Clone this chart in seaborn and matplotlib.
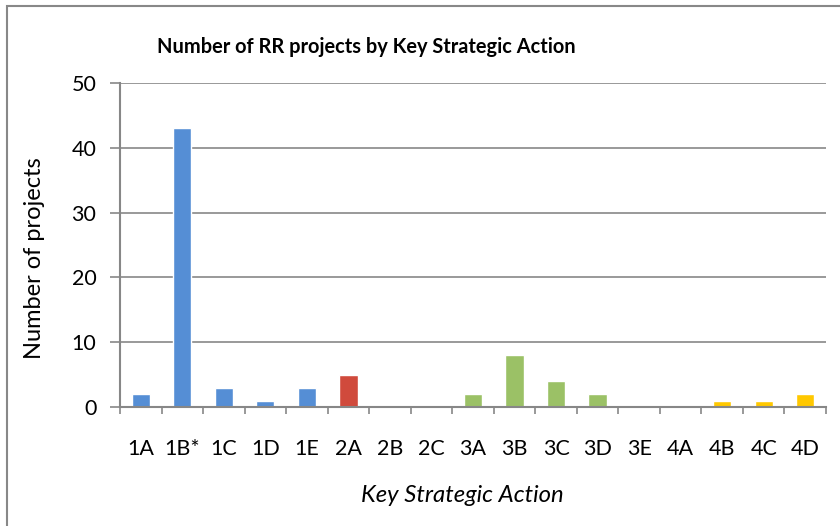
import matplotlib
matplotlib.use("Agg")
import matplotlib.pyplot as plt
import seaborn as sns
import pandas as pd
from matplotlib.patches import Rectangle

categories = ["1A", "1B*", "1C", "1D", "1E", "2A", "2B", "2C", "3A", "3B", "3C", "3D", "3E", "4A", "4B", "4C", "4D"]
values = [2, 43, 3, 1, 3, 5, 0, 0, 2, 8, 4, 2, 0, 0, 1, 1, 2]
groups = ["1", "1", "1", "1", "1", "2", "2", "2", "3", "3", "3", "3", "3", "4", "4", "4", "4"]
group_colors = {"1": "#558ED5", "2": "#D04A3C", "3": "#9BC166", "4": "#FFC800"}
yticks = [0, 10, 20, 30, 40, 50]

title = "Number of RR projects by Key Strategic Action"
xlabel = "Key Strategic Action"
ylabel = "Number of projects"

df = pd.DataFrame({"cat": categories, "val": values, "grp": groups})

sns.set_theme(style="white")
plt.rcParams["font.family"] = ["Lato", "DejaVu Sans"]

W, H = 840, 526
fig = plt.figure(figsize=(W / 100, H / 100), dpi=100)
ax = fig.add_axes([120 / W, 1 - 407 / H, (826 - 120) / W, (407 - 83) / H])

sns.barplot(data=df, x="cat", y="val", hue="grp", palette=group_colors,
            dodge=False, width=0.44, legend=False, ax=ax, saturation=1)

grid_c = "#878787"
ax.set_ylim(0, 50)
ax.set_xlim(-0.5, len(categories) - 0.5)
ax.set_yticks(yticks)
ax.set_yticklabels([str(v) for v in yticks])
ax.yaxis.grid(True, color=grid_c, linewidth=1.2)
ax.set_axisbelow(True)
for s in ["top", "right"]:
    ax.spines[s].set_visible(False)
for s in ["left", "bottom"]:
    ax.spines[s].set_color(grid_c)
    ax.spines[s].set_linewidth(1.5)

ax.set_xlabel("")
ax.set_ylabel("")
ax.tick_params(axis="y", which="major", left=True, length=7, width=1.2, color=grid_c,
               pad=10, labelsize=15.5, labelcolor="#000000")
ax.tick_params(axis="x", which="major", bottom=False, length=0, pad=23,
               labelsize=15.5, labelcolor="#000000")
ax.set_xticks([i - 0.5 for i in range(len(categories) + 1)], minor=True)
ax.tick_params(axis="x", which="minor", bottom=True, length=5, width=1.2, color=grid_c)

fig.text(366 / W, 1 - 47 / H, title, ha="center", va="center",
         fontsize=14.4, fontweight="bold", color="#000000")
fig.text(462 / W, 1 - 495 / H, xlabel, ha="center", va="center",
         fontsize=17.2, fontstyle="italic", color="#000000")
fig.text(35 / W, 1 - 258 / H, ylabel, ha="center", va="center",
         rotation=90, fontsize=17, color="#000000")

fig.patches.append(Rectangle((7 / W, -0.1), 1.2, 1 - 6 / H + 0.1, transform=fig.transFigure,
                             fill=False, edgecolor="#888888", linewidth=1.5))

fig.savefig("out.png", dpi=100)
